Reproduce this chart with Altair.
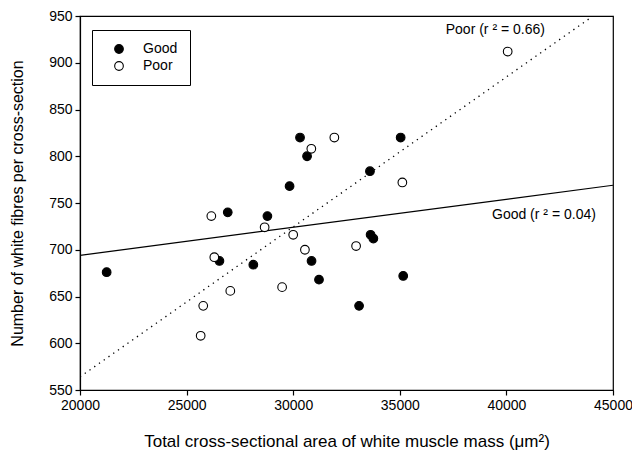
import altair as alt
import pandas as pd

# Good fish (filled circles)
good_x = [21250, 26930, 26540, 28130, 28790, 29830, 30860, 31210, 33090,
          30320, 30650, 35040, 33600, 33630, 33760, 35160]
good_y = [676, 740, 688, 684, 736, 768, 688, 668, 640,
          820, 800, 820, 784, 716, 712, 672]

# Poor fish (open circles)
poor_x = [31930, 30850, 40060, 35120, 26160, 28660, 30000, 30550, 26300,
          27050, 29480, 25780, 25660, 32950]
poor_y = [820, 808, 912, 772, 736, 724, 716, 700, 692,
          656, 660, 640, 608, 704]

# fitted regression lines (end points)
good_fit_x = [20000, 45000]
good_fit_y = [694, 769]
poor_fit_x = [20000, 45000]
poor_fit_y = [564, 965]

# annotations
ann_text = ["Poor (r \u00b2 = 0.66)", "Good (r \u00b2 = 0.04)"]
ann_x = [39480, 41760]
ann_y = [935, 737]

x_ticks = [20000, 25000, 30000, 35000, 40000, 45000]
y_ticks = [550, 600, 650, 700, 750, 800, 850, 900, 950]

FONT = "Liberation Sans"

pts = pd.DataFrame({
    "area": good_x + poor_x,
    "fibres": good_y + poor_y,
    "group": ["Good"] * len(good_x) + ["Poor"] * len(poor_x),
})
good_line = pd.DataFrame({"area": good_fit_x, "fibres": good_fit_y})
poor_line = pd.DataFrame({"area": poor_fit_x, "fibres": poor_fit_y})
ann = pd.DataFrame({"area": ann_x, "fibres": ann_y, "label": ann_text})

xs = alt.Scale(domain=[20000, 45000], nice=False, zero=False)
ys = alt.Scale(domain=[550, 950], nice=False, zero=False)

x_enc = alt.X("area:Q", scale=xs, axis=alt.Axis(
    values=x_ticks, format="d", labelFlush=False,
    title="Total cross-sectional area of white muscle mass (\u03bcm\u00b2)",
    titleFontSize=17, titlePadding=21))
y_enc = alt.Y("fibres:Q", scale=ys, axis=alt.Axis(
    values=y_ticks, format="d", labelFlush=False,
    title="Number of white fibres per cross-section",
    titleFontSize=16, titlePadding=23))

gl = alt.Chart(good_line).mark_line(color="black", strokeWidth=1.2, clip=True).encode(
    x=x_enc, y=y_enc)
pl = alt.Chart(poor_line).mark_line(color="black", strokeWidth=1.3,
                                     strokeDash=[1.3, 4.5], clip=True).encode(
    x=alt.X("area:Q", scale=xs), y=alt.Y("fibres:Q", scale=ys))

points = alt.Chart(pts).mark_point(
    shape="circle", filled=True, size=75, stroke="black", strokeWidth=1.1,
    opacity=1).encode(
    x=alt.X("area:Q", scale=xs),
    y=alt.Y("fibres:Q", scale=ys),
    fill=alt.Fill("group:N",
                  scale=alt.Scale(domain=["Good", "Poor"], range=["black", "white"]),
                  legend=alt.Legend(
                      title=None, orient="none", legendX=12, legendY=14,
                      direction="vertical",
                      strokeColor="black", fillColor="white", padding=12,
                      symbolType="circle", symbolSize=75,
                      symbolStrokeColor="black", symbolStrokeWidth=1.1,
                      symbolOffset=8, labelOffset=17,
                      labelFont=FONT, labelFontSize=14, labelColor="black",
                      rowPadding=3)),
)

texts = alt.Chart(ann).mark_text(font=FONT, fontSize=14, color="black").encode(
    x=alt.X("area:Q", scale=xs), y=alt.Y("fibres:Q", scale=ys), text="label:N")

chart = alt.layer(gl, pl, points, texts).properties(
    width=533, height=374,
    padding={"left": 80, "top": 16, "right": 19, "bottom": 64},
    autosize=alt.AutoSizeParams(type="none"),
).configure_view(stroke="black", strokeWidth=1.2).configure_axis(
    grid=False, domainColor="black", domainWidth=1.2, tickColor="black",
    tickSize=5, tickWidth=1.2, labelFont=FONT, labelFontSize=14, labelColor="black",
    labelPadding=3, titleFont=FONT, titleFontWeight="normal",
    titleColor="black",
)

chart.save("out.html", embed_options={"renderer": "svg", "actions": False})
